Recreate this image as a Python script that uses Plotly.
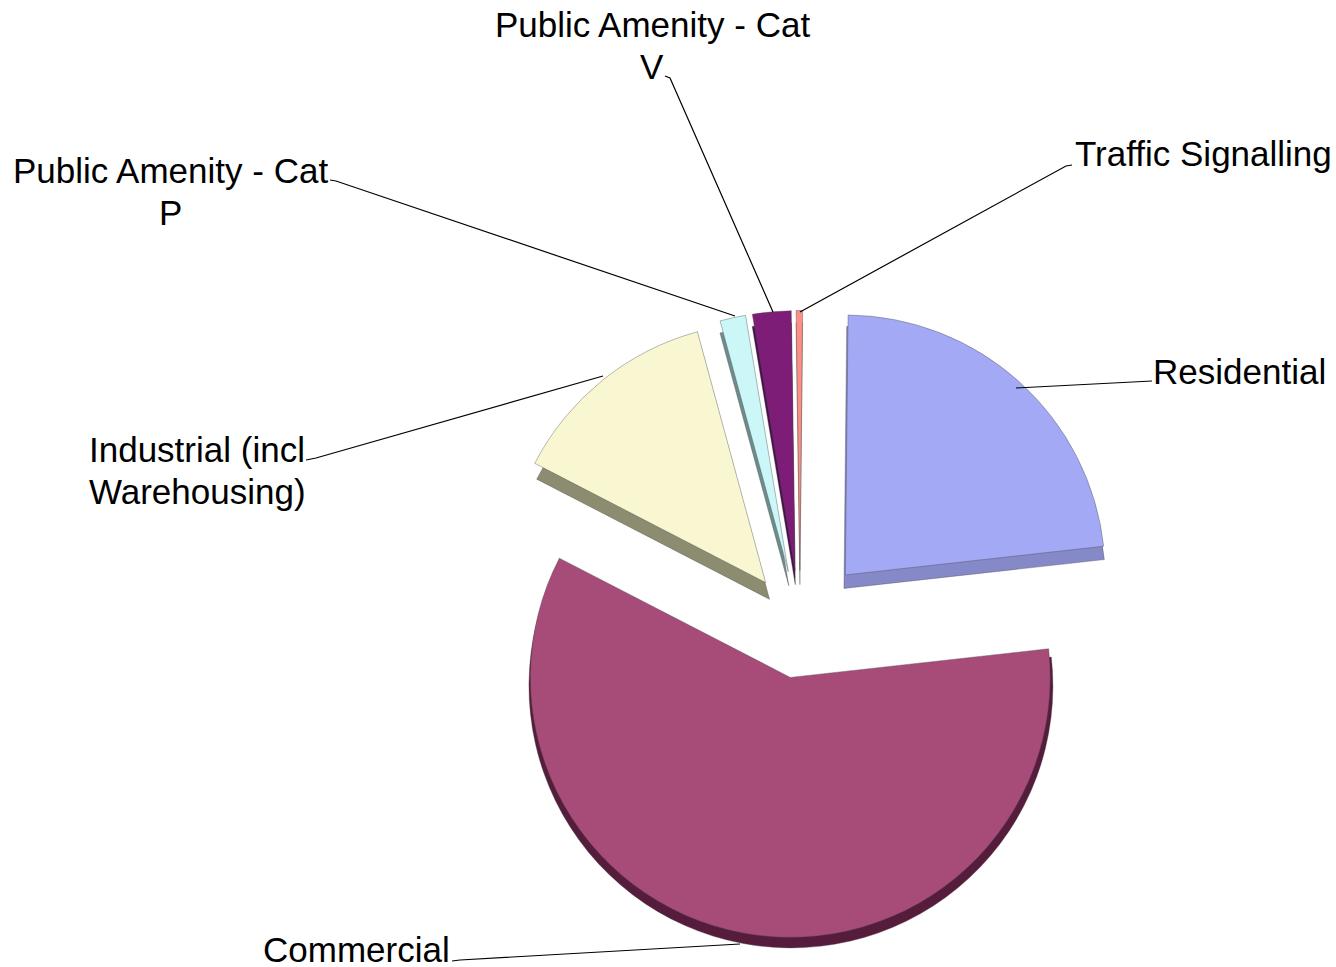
import plotly.graph_objects as go

WIDTH, HEIGHT = 1336, 967

# Share of each category, clockwise from twelve o'clock
categories = ["Residential", "Commercial", "Industrial (incl Warehousing)",
              "Public Amenity - Cat P", "Public Amenity - Cat V", "Traffic Signalling"]
shares = [23.1, 59.4, 13.2, 1.6, 2.4, 0.4]
pull_out = [0.26, 0.205, 0.21, 0.21, 0.21, 0.21]
side_pull = [0.25, 0.19, 0.185, 0.20, 0.20, 0.20]
top_colors = ["#A4A9F6", "#A74B78", "#F9F7D2", "#CBF7F8", "#7D1D78", "#FF8E84"]
side_colors = ["#8689C8", "#561C3C", "#8C8C70", "#6F8C8C", "#4A0F4A", "#B0B0B0"]

CENTER_X, CENTER_Y = 800, 625
HALF_SIZE = 327.5
DEPTH = 12
ROTATION = 0.6


def px(x):
    return x / WIDTH


def py(y):
    return 1 - y / HEIGHT


def pie_layer(colors, pulls, shift, edge):
    return go.Pie(
        labels=categories, values=shares, pull=pulls, sort=False,
        direction="clockwise", rotation=ROTATION, textinfo="none", showlegend=False,
        marker=dict(colors=colors, line=dict(color=edge, width=0.7)),
        domain=dict(
            x=[px(CENTER_X - HALF_SIZE), px(CENTER_X + HALF_SIZE)],
            y=[py(CENTER_Y + shift + HALF_SIZE), py(CENTER_Y + shift - HALF_SIZE)],
        ),
    )


fig = go.Figure([
    pie_layer(side_colors, side_pull, DEPTH, "rgba(70,70,70,0.5)"),
    pie_layer(top_colors, pull_out, 0, "rgba(70,70,70,0.55)"),
])

FONT = dict(family="Liberation Sans, Arial, sans-serif", size=35, color="#000000")

# Caption lines: text, x, y (middle), horizontal anchor
caption_lines = [
    ("Public Amenity - Cat", 652, 24, "center"),
    ("V", 652, 67, "center"),
    ("Public Amenity - Cat", 170, 170, "center"),
    ("P", 170, 213, "center"),
    ("Traffic Signalling", 1074, 153, "left"),
    ("Residential", 1152, 371, "left"),
    ("Industrial (incl", 88, 450, "left"),
    ("Warehousing)", 88, 491, "left"),
    ("Commercial", 262, 949, "left"),
]
for text, x, y, xanchor in caption_lines:
    fig.add_annotation(text=text, x=px(x), y=py(y), xref="paper", yref="paper",
                       xanchor=xanchor, yanchor="middle", showarrow=False,
                       borderpad=0, font=FONT)

# Leader lines running from each caption to its slice
leaders = [
    [(1072, 165), (1066, 166), (800, 312)],
    [(1152, 381), (1016, 388)],
    [(665, 76), (670, 78), (773, 312)],
    [(330, 180), (336, 181), (735, 316)],
    [(306, 460), (316, 458), (603, 376)],
    [(452, 961), (460, 960), (740, 944)],
]
for points in leaders:
    path = "M " + " L ".join(f"{px(x):.5f},{py(y):.5f}" for x, y in points)
    fig.add_shape(type="path", path=path, xref="paper", yref="paper",
                  line=dict(color="#000000", width=1.2))

fig.update_layout(width=WIDTH, height=HEIGHT, margin=dict(l=0, r=0, t=0, b=0),
                  paper_bgcolor="#FFFFFF", plot_bgcolor="#FFFFFF")
fig.write_html("out.html")
